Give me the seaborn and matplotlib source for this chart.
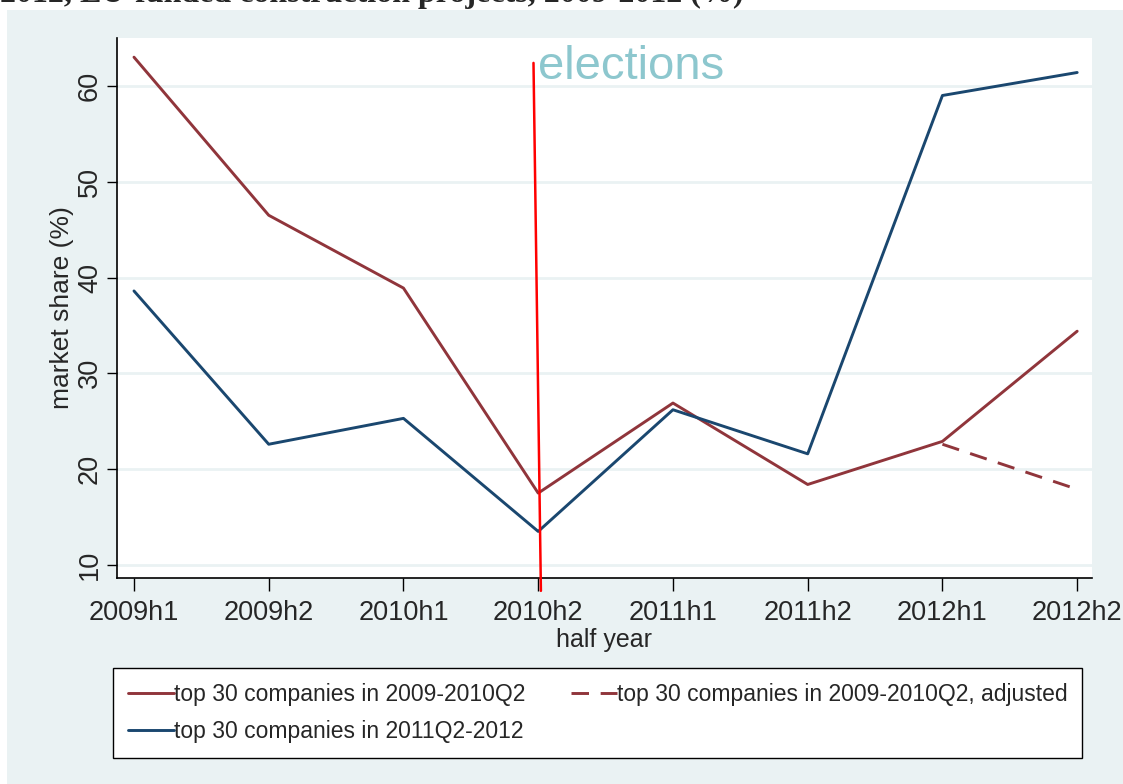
import numpy as np
import pandas as pd
import seaborn as sns
import matplotlib.pyplot as plt
from matplotlib.patches import Rectangle

periods = ['2009h1', '2009h2', '2010h1', '2010h2', '2011h1', '2011h2', '2012h1', '2012h2']
top30_early = [63.0, 46.5, 38.9, 17.5, 26.9, 18.4, 22.9, 34.4]
top30_late = [38.6, 22.6, 25.3, 13.5, 26.2, 21.6, 59.0, 61.4]
adj_periods = ['2012h1', '2012h2']
top30_early_adj = [22.6, 17.9]

lab_early = 'top 30 companies in 2009-2010Q2'
lab_adj = 'top 30 companies in 2009-2010Q2, adjusted'
lab_late = 'top 30 companies in 2011Q2-2012'

def main():
  sns.set_theme(style='white')
  plt.rcParams['font.family'] = ['Liberation Sans', 'DejaVu Sans']

  pos = {p: i for i, p in enumerate(periods)}
  df = pd.DataFrame({
    'x': [pos[p] for p in periods] * 2 + [pos[p] for p in adj_periods],
    'share': top30_early + top30_late + top30_early_adj,
    'series': [lab_early] * 8 + [lab_late] * 8 + [lab_adj] * 2,
  })

  fig = plt.figure(figsize=(11.23, 7.84), dpi=100)
  fig.patch.set_facecolor('white')
  bg = '#EAF2F3'
  fig.patches.append(Rectangle((7 / 1123, 0), 1, 1 - 10 / 784, transform=fig.transFigure,
                               facecolor=bg, edgecolor='none', zorder=-10))
  fig.text(0.0, 1 + 6 / 784, '2012, EU-funded construction projects, 2009-2012 (%)',
           family=['Liberation Serif'], weight='bold', fontsize=23, va='center', ha='left')

  ax = fig.add_axes([117 / 1123, 1 - 578 / 784, (1092 - 117) / 1123, (578 - 38) / 784])
  ax.set_facecolor('white')

  palette = {lab_early: '#90353B', lab_adj: '#90353B', lab_late: '#1A476F'}
  dashes = {lab_early: '', lab_adj: (6, 4), lab_late: ''}
  sns.lineplot(data=df, x='x', y='share', hue='series', style='series',
               hue_order=[lab_early, lab_adj, lab_late], style_order=[lab_early, lab_adj, lab_late],
               palette=palette, dashes=dashes, linewidth=2.1, ax=ax, legend=True)

  # election marker
  ax.plot([2.965, 3.02], [62.4, 7.3], color='#FF0000', linewidth=1.8, clip_on=False, zorder=5)
  ax.text(2.995, 60.7, 'elections', color='#8DC7CE', fontsize=34, ha='left', va='baseline')

  ax.set_xlim(-0.126, 7.11)
  ax.set_ylim(8.64, 65.0)
  ax.set_xticks(range(len(periods)))
  ax.set_xticklabels(periods, fontsize=19.5)
  ax.set_yticks([10, 20, 30, 40, 50, 60])
  ax.set_yticklabels(['10', '20', '30', '40', '50', '60'], fontsize=19.5, rotation=90, va='center')
  ax.yaxis.grid(True, color=bg, linewidth=2)
  ax.set_axisbelow(True)
  ax.tick_params(axis='x', direction='out', length=9, width=1, color='black', bottom=True, pad=7)
  ax.tick_params(axis='y', direction='out', length=7, width=1, color='black', left=True, pad=3)
  for s in ['top', 'right']:
    ax.spines[s].set_visible(False)
  for s in ['left', 'bottom']:
    ax.spines[s].set_color('black')
    ax.spines[s].set_linewidth(1.2)
  ax.set_xlabel('half year', fontsize=18, labelpad=1)
  ax.set_ylabel('market share (%)', fontsize=19, labelpad=2)

  handles, labels = ax.get_legend_handles_labels()
  order = [labels.index(lab_early), labels.index(lab_late), labels.index(lab_adj)]
  ax.legend([handles[i] for i in order], [labels[i] for i in order],
            bbox_to_anchor=(113 / 1123, 1 - 668 / 784),
            bbox_transform=fig.transFigure, loc='upper left', ncol=2,
            fancybox=False, edgecolor='black', framealpha=1, fontsize=16.5,
            handlelength=2.0, handletextpad=0.0, borderpad=0.65, labelspacing=0.6,
            columnspacing=2.0, borderaxespad=0)

  plt.savefig('out.png', dpi=100)

if __name__ == '__main__':
  main()
